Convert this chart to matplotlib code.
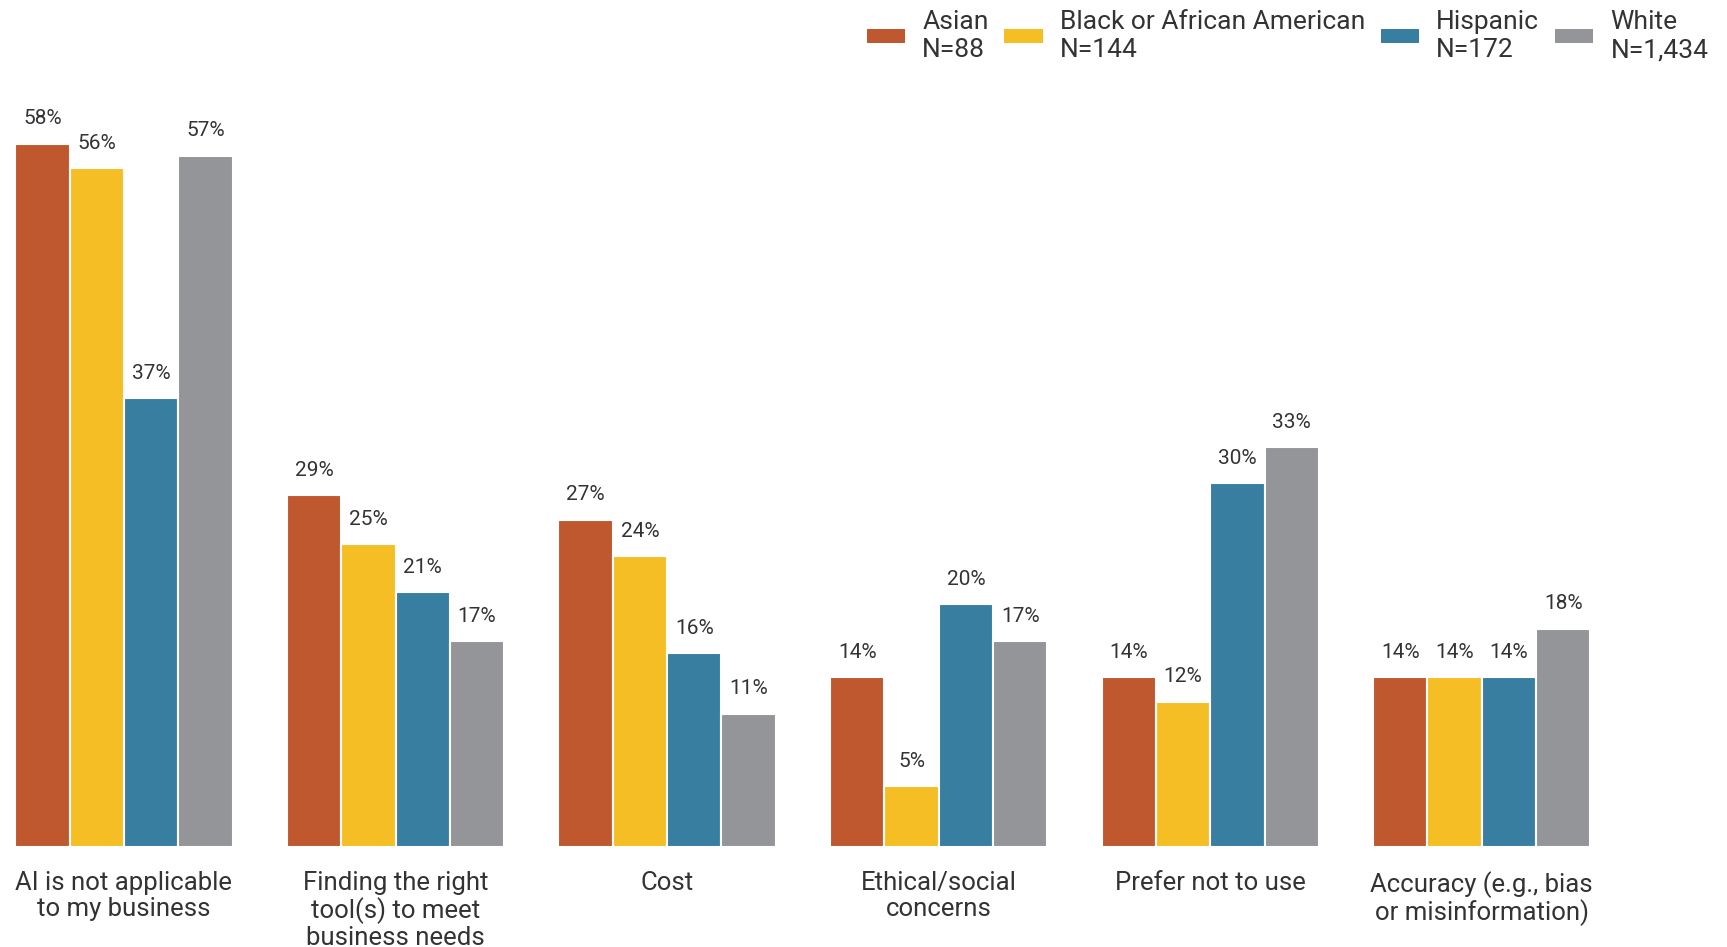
import numpy as np
import matplotlib.pyplot as plt
from matplotlib.patches import Patch

plt.rcParams["font.family"] = ["Roboto", "DejaVu Sans"]

categories = [
    "AI is not applicable\nto my business",
    "Finding the right\ntool(s) to meet\nbusiness needs",
    "Cost",
    "Ethical/social\nconcerns",
    "Prefer not to use",
    "Accuracy (e.g., bias\nor misinformation)",
]
groups = ["Asian\nN=88", "Black or African American\nN=144", "Hispanic\nN=172", "White\nN=1,434"]
asian = [58, 29, 27, 14, 14, 14]
black = [56, 25, 24, 5, 12, 14]
hispanic = [37, 21, 16, 20, 30, 14]
white = [57, 17, 11, 17, 33, 18]
series = [asian, black, hispanic, white]
colors = ["#C0582F", "#F6BE25", "#387EA0", "#939598"]

fig = plt.figure(figsize=(17.27, 9.47), dpi=100)
ax = fig.add_axes([0.0089, 0.1055, 0.912, 0.8095])

x = np.arange(len(categories))
w = 0.2
for i, (vals, col) in enumerate(zip(series, colors)):
    pos = x + (i - 1.5) * w
    bars = ax.bar(pos, vals, width=w, color=col, edgecolor="white", linewidth=1.5)
    for b, v in zip(bars, vals):
        ax.annotate(f"{v}%", (b.get_x() + b.get_width() / 2, v),
                    xytext=(0, 11), textcoords="offset points",
                    ha="center", va="bottom", fontsize=15, color="#333333")

ax.set_xlim(-0.4, 5.4)
ax.set_ylim(0, 63.2)
ax.set_xticks(x, categories, fontsize=18.5, color="#333333", linespacing=1.1)
ax.tick_params(axis="x", length=0, pad=17)
ax.set_yticks([])
for s in ax.spines.values():
    s.set_visible(False)

handles = [Patch(facecolor=c, edgecolor="none") for c in colors]
fig.legend(handles, groups, loc="upper right", bbox_to_anchor=(0.997, 1.003),
           ncol=4, frameon=False, fontsize=19, labelcolor="#333333",
           handlelength=1.45, handleheight=0.42, handletextpad=0.65,
           columnspacing=0.6, borderaxespad=0.1, labelspacing=0.2)

fig.savefig("out.png", dpi=100)
